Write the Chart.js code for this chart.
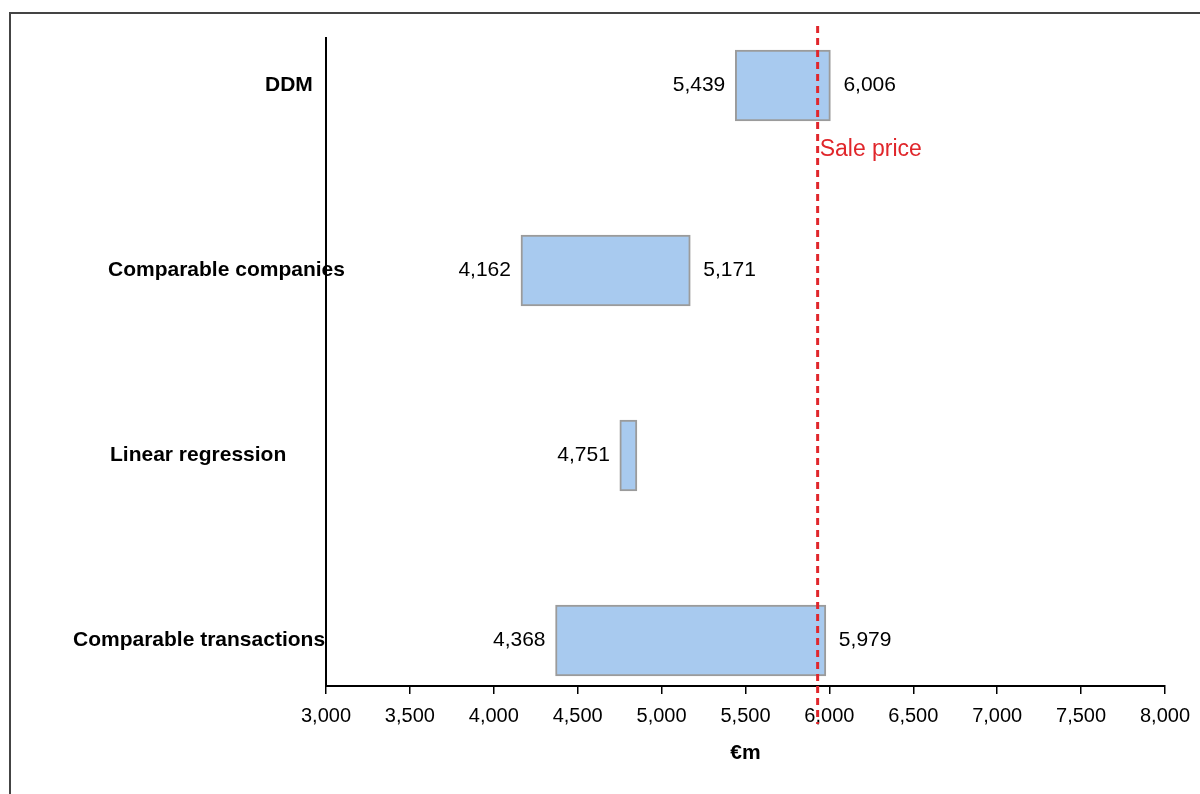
<!DOCTYPE html>
<html>
<head>
<meta charset="utf-8">
<script src="https://cdn.jsdelivr.net/npm/chart.js@4.4.1/dist/chart.umd.min.js"></script>
<style>
  html, body { margin: 0; padding: 0; background: #fff; }
  canvas { display: block; }
</style>
</head>
<body>
<canvas id="valuation" width="1200" height="794"></canvas>
<script>
// Valuation ranges by method (€m)
const methods = ['DDM', 'Comparable companies', 'Linear regression', 'Comparable transactions'];
const lowValues = [5439, 4162, 4751, 4368];
const highValues = [6006, 5171, 4853, 5979];
const showHighLabel = [true, true, false, true];
const salePrice = 5930;
const salePriceLabel = 'Sale price';
const axisMin = 3000;
const axisMax = 8000;
const axisStep = 500;
const axisTitle = '€m';

const FONT = "'Liberation Sans', Arial, Helvetica, sans-serif";
Chart.defaults.font.family = FONT;
Chart.defaults.color = '#000';

const fmt = v => v.toLocaleString('en-US');

// Outer frame around the figure
const framePlugin = {
  id: 'frame',
  beforeDraw(chart) {
    const ctx = chart.ctx;
    ctx.save();
    ctx.strokeStyle = '#444';
    ctx.lineWidth = 2;
    ctx.strokeRect(10, 13, 1400, 1000);
    ctx.restore();
  }
};

// Method names beside each bar
const methodLabelPlugin = {
  id: 'methodLabels',
  afterDraw(chart, args, opts) {
    const ctx = chart.ctx;
    const y = chart.scales.y;
    ctx.save();
    ctx.font = 'bold 21px ' + FONT;
    ctx.fillStyle = '#000';
    ctx.textAlign = 'left';
    ctx.textBaseline = 'middle';
    methods.forEach((m, i) => {
      ctx.fillText(m, opts.left[i], y.getPixelForValue(i));
    });
    ctx.restore();
  }
};

// Low / high values at the ends of each bar
const valueLabelPlugin = {
  id: 'valueLabels',
  afterDatasetsDraw(chart) {
    const ctx = chart.ctx;
    const x = chart.scales.x;
    const y = chart.scales.y;
    ctx.save();
    ctx.font = '21px ' + FONT;
    ctx.fillStyle = '#000';
    ctx.textBaseline = 'middle';
    methods.forEach((m, i) => {
      const yc = y.getPixelForValue(i);
      ctx.textAlign = 'right';
      ctx.fillText(fmt(lowValues[i]), x.getPixelForValue(lowValues[i]) - 10, yc);
      if (showHighLabel[i]) {
        ctx.textAlign = 'left';
        ctx.fillText(fmt(highValues[i]), x.getPixelForValue(highValues[i]) + 13, yc);
      }
    });
    ctx.restore();
  }
};

// Dashed reference line at the sale price
const salePricePlugin = {
  id: 'salePrice',
  afterDatasetsDraw(chart) {
    const ctx = chart.ctx;
    const area = chart.chartArea;
    const px = chart.scales.x.getPixelForValue(salePrice);
    ctx.save();
    ctx.strokeStyle = '#e0262b';
    ctx.lineWidth = 3;
    ctx.setLineDash([7, 5]);
    ctx.beginPath();
    ctx.moveTo(px, area.top - 12);
    ctx.lineTo(px, area.bottom + 38);
    ctx.stroke();
    ctx.setLineDash([]);
    ctx.font = '23px ' + FONT;
    ctx.fillStyle = '#e0262b';
    ctx.textAlign = 'left';
    ctx.textBaseline = 'middle';
    ctx.fillText(salePriceLabel, px + 2, area.top + 112);
    ctx.restore();
  }
};

new Chart(document.getElementById('valuation'), {
  type: 'bar',
  data: {
    datasets: [{
      data: methods.map((m, i) => ({ y: i, x: [lowValues[i], highValues[i]] })),
      backgroundColor: '#a8caef',
      borderColor: '#9b9b9b',
      borderWidth: 2,
      borderSkipped: false,
      barThickness: 71
    }]
  },
  options: {
    indexAxis: 'y',
    responsive: false,
    animation: false,
    layout: { padding: { left: 326, right: 35, top: 38, bottom: 0 } },
    plugins: {
      legend: { display: false },
      tooltip: { enabled: false },
      methodLabels: { left: [265, 108, 110, 73] }
    },
    scales: {
      x: {
        type: 'linear',
        min: axisMin,
        max: axisMax,
        afterFit(s) { s.height = 108; },
        ticks: {
          stepSize: axisStep,
          padding: 10,
          font: { size: 20 },
          color: '#000',
          maxRotation: 0,
          callback: v => fmt(v)
        },
        grid: {
          display: true,
          drawOnChartArea: false,
          drawTicks: true,
          tickLength: 8,
          color: '#000',
          lineWidth: 1.5
        },
        border: { display: true, color: '#000', width: 2 },
        title: {
          display: true,
          text: axisTitle,
          font: { size: 21, weight: 'bold' },
          color: '#000',
          padding: { top: 0, bottom: 28 }
        }
      },
      y: {
        type: 'linear',
        reverse: true,
        offset: false,
        min: -0.257,
        max: 3.246,
        afterFit(s) { s.width = 0; },
        ticks: { display: false },
        grid: { display: false, offset: false },
        border: { display: true, color: '#000', width: 2 }
      }
    }
  },
  plugins: [framePlugin, methodLabelPlugin, valueLabelPlugin, salePricePlugin]
});
</script>
</body>
</html>
